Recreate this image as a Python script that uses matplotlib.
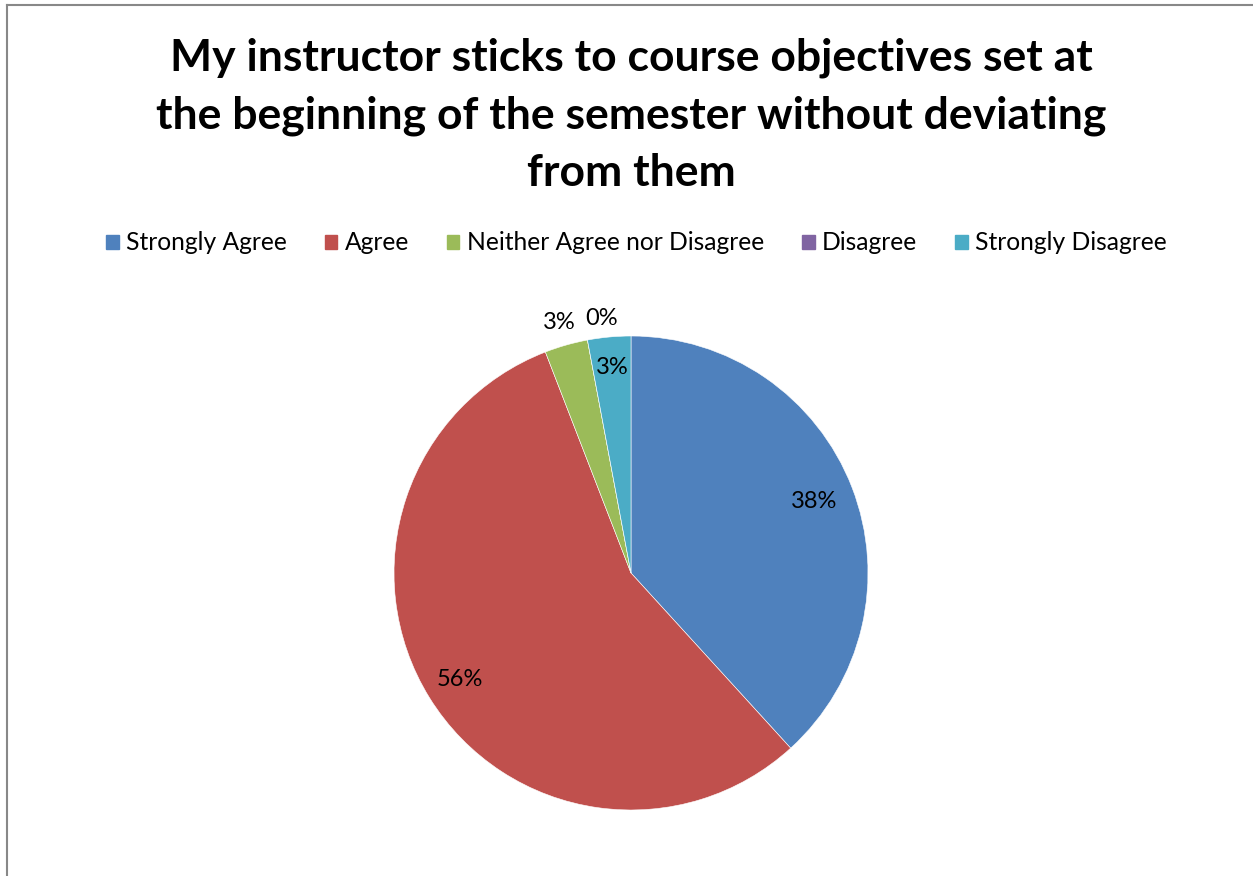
import matplotlib
matplotlib.use("Agg")
import matplotlib.pyplot as plt
from matplotlib.lines import Line2D
import numpy as np

plt.rcParams['font.family'] = ['Lato', 'DejaVu Sans']

# survey answers (counts)
categories = ['Strongly Agree', 'Agree', 'Neither Agree nor Disagree', 'Disagree', 'Strongly Disagree']
counts = [13, 19, 1, 0, 1]
colors = ['#4F81BD', '#C0504D', '#9BBB59', '#8064A2', '#4BACC6']
title = 'My instructor sticks to course objectives set at\nthe beginning of the semester without deviating\nfrom them'

W, H = 1253, 876
fig = plt.figure(figsize=(W / 100, H / 100), dpi=100)

# pie centre / radius in pixels
cx, cy, r = 631, 573, 237
ax = fig.add_axes([(cx - r) / W, (H - cy - r) / H, 2 * r / W, 2 * r / H])
wedges, _ = ax.pie(counts, colors=colors, startangle=90, counterclock=False,
                   wedgeprops=dict(edgecolor='white', linewidth=0.4))
ax.set_xlim(-1, 1)
ax.set_ylim(-1, 1)
ax.set_aspect('equal')

# label distance from centre (small slices sit outside)
label_dist = [0.83, 0.85, 1.10, 1.08, 0.87]
label_shift = [0, 0, 0, -4, 0]

total = sum(counts)
for w, c, d, s in zip(wedges, counts, label_dist, label_shift):
    pct = 100 * c / total
    ang = np.deg2rad((w.theta1 + w.theta2) / 2 + s)
    ax.text(d * np.cos(ang), d * np.sin(ang), f'{pct:.0f}%',
            ha='center', va='center', fontsize=17, color='black')

fig.text(0.504, 1 - 115 / H, title, ha='center', va='center', fontsize=32,
         fontweight='bold', linespacing=1.52)

handles = [plt.Rectangle((0, 0), 1, 1, color=c) for c in colors]
fig.legend(handles, categories, loc='center', bbox_to_anchor=(0.508, 1 - 243 / H),
           ncol=5, frameon=False, fontsize=17.7, handlelength=0.5, handleheight=0.5,
           handletextpad=0.3, columnspacing=1.55)

# chart frame (left and top edges visible)
fig.add_artist(Line2D([7 / W, 7 / W], [0, 1 - 5 / H], color='#888888', lw=1.5))
fig.add_artist(Line2D([7 / W, 1252 / W], [1 - 5 / H, 1 - 5 / H], color='#888888', lw=1.5))

fig.savefig('out.png', dpi=100, facecolor='white')
